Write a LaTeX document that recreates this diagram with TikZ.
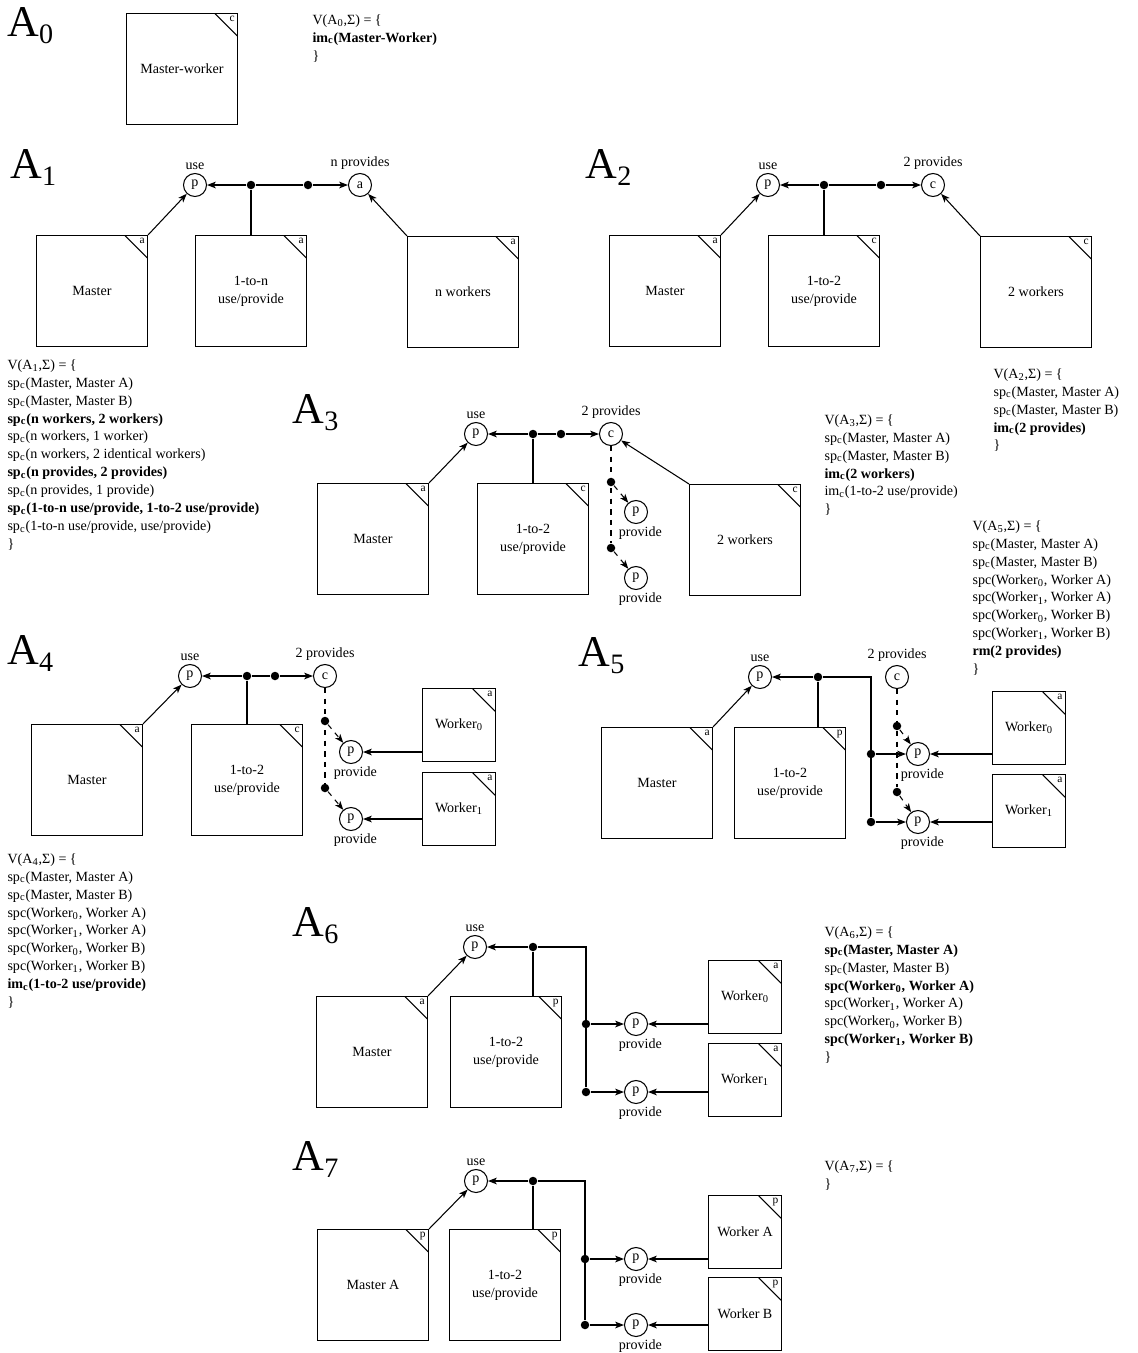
\documentclass[tikz,border=0pt]{standalone}
\usepackage{fontspec}
\setmainfont{Liberation Serif}
\usetikzlibrary{arrows.meta}
\newcommand{\sbc}{\textsubscript{c}}
\newcommand{\panel}[1]{{\fontsize{25}{25}\selectfont A\raisebox{-4pt}{\fontsize{16}{16}\selectfont #1}}}
\begin{document}
\begin{tikzpicture}[x=0.02cm,y=-0.02cm,line width=0.6pt,
	font=\fontsize{8}{10.2}\selectfont,
	>={Stealth[length=5pt,width=3.8pt,inset=1.3pt]},
	every label/.style={inner sep=1.5pt},
	tag/.style={anchor=north east,inner sep=1.6pt,font=\fontsize{6.5}{7}\selectfont},
	comp/.style={draw,minimum width=2.22cm,minimum height=2.22cm,align=center,inner sep=0pt,
		path picture={\draw ([xshift=-0.45cm]path picture bounding box.north east)--([yshift=-0.45cm]path picture bounding box.north east);},
		label={[tag]north east:#1}},
	wcomp/.style={comp=#1,minimum width=1.45cm,minimum height=1.45cm},
	port/.style={draw,circle,minimum size=0.46cm,inner sep=0pt},
	provport/.style={port,label={[xshift=2.5pt]below:provide}},
	dot/.style={circle,fill,inner sep=0pt,minimum size=0.17cm},
	vtext/.style={anchor=north west,align=left,inner sep=0pt}]
	\useasboundingbox (0,0) rectangle (1138,1353);
	% A0
	\node[anchor=base west,inner sep=0pt] (t0) at (7,36) {\panel{0}};
	\node[comp=c] (b0) at (182,69) {Master-worker};
	\node[vtext] (v0) at (312,14) {V(A\textsubscript{0},Σ) = \{\\\textbf{im\sbc(Master-Worker)}\\\}};
	% A1
	\node[anchor=base west,inner sep=0pt] (t1) at (10,178) {\panel{1}};
	\node[port,label=above:use] (p1) at (195,185) {p};
	\node[port,label=above:n provides] (q1) at (360,185) {a};
	\node[dot] (j1) at (251,185) {};
	\node[dot] (k1) at (308,185) {};
	\node[comp=a] (m1) at (92,291) {Master};
	\node[comp=a] (u1) at (251,291) {1-to-n\\use/provide};
	\node[comp=a] (w1) at (463,292) {n workers};
	\draw[->] (j1) -- (p1);
	\draw (j1) -- (k1);
	\draw[->] (k1) -- (q1);
	\draw (j1) -- (u1.north);
	\draw[->] (m1.north east) -- (p1);
	\draw[->] (w1.north west) -- (q1);
	\node[vtext] (v1) at (7,359) {V(A\textsubscript{1},Σ) = \{\\sp\sbc(Master, Master A)\\sp\sbc(Master, Master B)\\
		\textbf{sp\sbc(n workers, 2 workers)}\\sp\sbc(n workers, 1 worker)\\sp\sbc(n workers, 2 identical workers)\\
		\textbf{sp\sbc(n provides, 2 provides)}\\sp\sbc(n provides, 1 provide)\\
		\textbf{sp\sbc(1-to-n use/provide, 1-to-2 use/provide)}\\sp\sbc(1-to-n use/provide, use/provide)\\\}};
	% A2
	\node[anchor=base west,inner sep=0pt] (t2) at (585,178) {\panel{2}};
	\node[port,label=above:use] (p2) at (768,185) {p};
	\node[port,label=above:2 provides] (q2) at (933,185) {c};
	\node[dot] (j2) at (824,185) {};
	\node[dot] (k2) at (881,185) {};
	\node[comp=a] (m2) at (665,291) {Master};
	\node[comp=c] (u2) at (824,291) {1-to-2\\use/provide};
	\node[comp=c] (w2) at (1036,292) {2 workers};
	\draw[->] (j2) -- (p2);
	\draw (j2) -- (k2);
	\draw[->] (k2) -- (q2);
	\draw (j2) -- (u2.north);
	\draw[->] (m2.north east) -- (p2);
	\draw[->] (w2.north west) -- (q2);
	\node[vtext] (v2) at (993,368) {V(A\textsubscript{2},Σ) = \{\\sp\sbc(Master, Master A)\\sp\sbc(Master, Master B)\\
		\textbf{im\sbc(2 provides)}\\\}};
	% A3
	\node[anchor=base west,inner sep=0pt] (t3) at (292,423) {\panel{3}};
	\node[port,label=above:use] (p3) at (476,434) {p};
	\node[port,label=above:2 provides] (q3) at (611,434) {c};
	\node[dot] (j3) at (533,434) {};
	\node[dot] (k3) at (561,434) {};
	\node[comp=a] (m3) at (373,539) {Master};
	\node[comp=c] (u3) at (533,539) {1-to-2\\use/provide};
	\node[comp=c] (w3) at (745,540) {2 workers};
	\node[dot] (e3a) at (611,482) {};
	\node[dot] (e3b) at (611,548) {};
	\node[provport] (r3a) at (636,512) {p};
	\node[provport] (r3b) at (636,578) {p};
	\draw[->] (j3) -- (p3);
	\draw (j3) -- (k3);
	\draw[->] (k3) -- (q3);
	\draw (j3) -- (u3.north);
	\draw[->] (m3.north east) -- (p3);
	\draw[->] (w3.north west) -- (q3);
	\draw[dashed] (q3) -- (e3b);
	\draw[dashed,->] (e3a) -- (r3a);
	\draw[dashed,->] (e3b) -- (r3b);
	\node[vtext] (v3) at (824,414) {V(A\textsubscript{3},Σ) = \{\\sp\sbc(Master, Master A)\\sp\sbc(Master, Master B)\\
		\textbf{im\sbc(2 workers)}\\im\sbc(1-to-2 use/provide)\\\}};
	% A4
	\node[anchor=base west,inner sep=0pt] (t4) at (7,664) {\panel{4}};
	\node[port,label=above:use] (p4) at (190,676) {p};
	\node[port,label=above:2 provides] (q4) at (325,676) {c};
	\node[dot] (j4) at (247,676) {};
	\node[dot] (k4) at (275,676) {};
	\node[comp=a] (m4) at (87,780) {Master};
	\node[comp=c] (u4) at (247,780) {1-to-2\\use/provide};
	\node[dot] (e4a) at (325,721) {};
	\node[dot] (e4b) at (325,788) {};
	\node[provport] (r4a) at (351,752) {p};
	\node[provport] (r4b) at (351,819) {p};
	\node[wcomp=a] (x4a) at (459,725) {Worker\textsubscript{0}};
	\node[wcomp=a] (x4b) at (459,809) {Worker\textsubscript{1}};
	\draw[->] (j4) -- (p4);
	\draw (j4) -- (k4);
	\draw[->] (k4) -- (q4);
	\draw (j4) -- (u4.north);
	\draw[->] (m4.north east) -- (p4);
	\draw[dashed] (q4) -- (e4b);
	\draw[dashed,->] (e4a) -- (r4a);
	\draw[dashed,->] (e4b) -- (r4b);
	\draw[->] (x4a.west |- r4a) -- (r4a);
	\draw[->] (x4b.west |- r4b) -- (r4b);
	\node[vtext] (v4) at (7,853) {V(A\textsubscript{4},Σ) = \{\\sp\sbc(Master, Master A)\\sp\sbc(Master, Master B)\\
		spc(Worker\textsubscript{0}, Worker A)\\spc(Worker\textsubscript{1}, Worker A)\\spc(Worker\textsubscript{0}, Worker B)\\
		spc(Worker\textsubscript{1}, Worker B)\\\textbf{im\sbc(1-to-2 use/provide)}\\\}};
	% A5
	\node[anchor=base west,inner sep=0pt] (t5) at (578,666) {\panel{5}};
	\node[port,label=above:use] (p5) at (760,677) {p};
	\node[port,label=above:2 provides] (q5) at (897,677) {c};
	\node[dot] (j5) at (818,677) {};
	\node[comp=a] (m5) at (657,783) {Master};
	\node[comp=p] (u5) at (790,783) {1-to-2\\use/provide};
	\node[dot] (g5a) at (871,754) {};
	\node[dot] (g5b) at (871,822) {};
	\node[dot] (e5a) at (897,726) {};
	\node[dot] (e5b) at (897,792) {};
	\node[provport] (r5a) at (918,754) {p};
	\node[provport] (r5b) at (918,822) {p};
	\node[wcomp=a] (x5a) at (1029,728) {Worker\textsubscript{0}};
	\node[wcomp=a] (x5b) at (1029,811) {Worker\textsubscript{1}};
	\draw[->] (j5) -- (p5);
	\draw (j5) -| (g5b);
	\draw (j5) -- (j5 |- u5.north);
	\draw[->] (m5.north east) -- (p5);
	\draw[->] (g5a) -- (r5a);
	\draw[->] (g5b) -- (r5b);
	\draw[dashed] (q5) -- (e5b);
	\draw[dashed,->] (e5a) -- (r5a);
	\draw[dashed,->] (e5b) -- (r5b);
	\draw[->] (x5a.west |- r5a) -- (r5a);
	\draw[->] (x5b.west |- r5b) -- (r5b);
	\node[vtext] (v5) at (972,520) {V(A\textsubscript{5},Σ) = \{\\sp\sbc(Master, Master A)\\sp\sbc(Master, Master B)\\
		spc(Worker\textsubscript{0}, Worker A)\\spc(Worker\textsubscript{1}, Worker A)\\spc(Worker\textsubscript{0}, Worker B)\\
		spc(Worker\textsubscript{1}, Worker B)\\\textbf{rm(2 provides)}\\\}};
	% A6
	\node[anchor=base west,inner sep=0pt] (t6) at (292,936) {\panel{6}};
	\node[port,label=above:use] (p6) at (475,947) {p};
	\node[dot] (j6) at (533,947) {};
	\node[comp=a] (m6) at (372,1052) {Master};
	\node[comp=p] (u6) at (506,1052) {1-to-2\\use/provide};
	\node[dot] (g6a) at (586,1024) {};
	\node[dot] (g6b) at (586,1092) {};
	\node[provport] (r6a) at (636,1024) {p};
	\node[provport] (r6b) at (636,1092) {p};
	\node[wcomp=a] (x6a) at (745,997) {Worker\textsubscript{0}};
	\node[wcomp=a] (x6b) at (745,1080) {Worker\textsubscript{1}};
	\draw[->] (j6) -- (p6);
	\draw (j6) -| (g6b);
	\draw (j6) -- (j6 |- u6.north);
	\draw[->] (m6.north east) -- (p6);
	\draw[->] (g6a) -- (r6a);
	\draw[->] (g6b) -- (r6b);
	\draw[->] (x6a.west |- r6a) -- (r6a);
	\draw[->] (x6b.west |- r6b) -- (r6b);
	\node[vtext] (v6) at (824,926) {V(A\textsubscript{6},Σ) = \{\\\textbf{sp\sbc(Master, Master A)}\\sp\sbc(Master, Master B)\\
		\textbf{spc(Worker\textsubscript{0}, Worker A)}\\spc(Worker\textsubscript{1}, Worker A)\\spc(Worker\textsubscript{0}, Worker B)\\
		\textbf{spc(Worker\textsubscript{1}, Worker B)}\\\}};
	% A7
	\node[anchor=base west,inner sep=0pt] (t7) at (292,1170) {\panel{7}};
	\node[port,label=above:use] (p7) at (476,1181) {p};
	\node[dot] (j7) at (533,1181) {};
	\node[comp=p] (m7) at (373,1285) {Master A};
	\node[comp=p] (u7) at (505,1285) {1-to-2\\use/provide};
	\node[dot] (g7a) at (585,1259) {};
	\node[dot] (g7b) at (585,1325) {};
	\node[provport] (r7a) at (636,1259) {p};
	\node[provport] (r7b) at (636,1325) {p};
	\node[wcomp=p] (x7a) at (745,1232) {Worker A};
	\node[wcomp=p] (x7b) at (745,1314) {Worker B};
	\draw[->] (j7) -- (p7);
	\draw (j7) -| (g7b);
	\draw (j7) -- (j7 |- u7.north);
	\draw[->] (m7.north east) -- (p7);
	\draw[->] (g7a) -- (r7a);
	\draw[->] (g7b) -- (r7b);
	\draw[->] (x7a.west |- r7a) -- (r7a);
	\draw[->] (x7b.west |- r7b) -- (r7b);
	\node[vtext] (v7) at (824,1160) {V(A\textsubscript{7},Σ) = \{\\\}};
\end{tikzpicture}
\end{document}
